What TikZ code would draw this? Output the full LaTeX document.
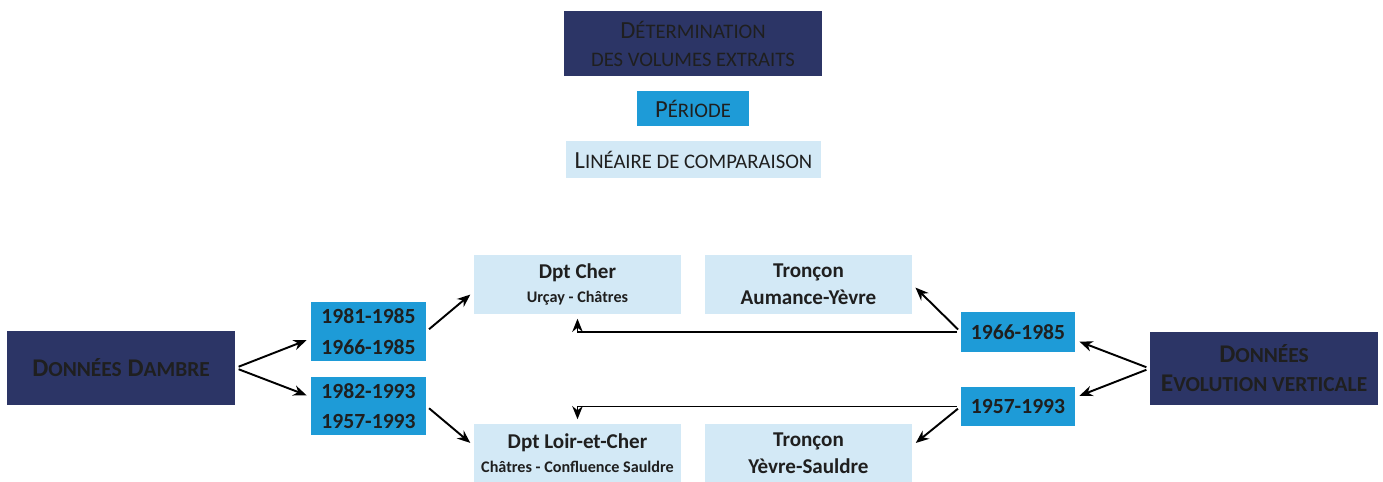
\documentclass[tikz,border=0pt]{standalone}
\usepackage{fontspec}
\setmainfont{Carlito}
\usepackage{graphicx}
\usepackage{tikz}
\usetikzlibrary{positioning,arrows.meta}

\definecolor{navyfill}{HTML}{2C3566}
\definecolor{perfill}{HTML}{1E9BD7}
\definecolor{linfill}{HTML}{D3E9F6}
\newcommand{\smc}[1]{\scalebox{0.84}{#1}}

\begin{document}
\begin{tikzpicture}[
  x=0.02cm, y=-0.02cm,
  navybox/.style={rectangle, fill=navyfill, text=black!88, align=center, inner sep=0pt, font=\fontsize{14.5}{15.5}\selectfont\bfseries},
  perbox/.style={rectangle, fill=perfill, text=black!88, align=center, inner sep=0pt, font=\fontsize{12.3}{17.5}\selectfont\bfseries},
  linbox/.style={rectangle, fill=linfill, text=black!88, align=center, inner sep=0pt, font=\fontsize{12}{15.3}\selectfont\bfseries},
  legtext/.style={font=\fontsize{14}{15.9}\selectfont},
  subtext/.style={font=\fontsize{9.2}{11}\selectfont\bfseries},
  arrowedge/.style={draw=black, line width=1.1pt, shorten <=2pt, shorten >=2.5pt, -{Stealth[length=7.5pt,width=6pt]}}
]
\useasboundingbox (0,0) rectangle (1383,482);

\node[navybox, legtext, minimum width=5.16cm, minimum height=1.3cm] (lgvol) at (693,43.5) {D\smc{ÉTERMINATION}\\\smc{DES VOLUMES EXTRAITS}};
\node[perbox, legtext, minimum width=2.24cm, minimum height=0.7cm] (lgper) at (693,108.5) {P\smc{ÉRIODE}};
\node[linbox, legtext, minimum width=5.1cm, minimum height=0.74cm] (lglin) at (693.5,159.5) {L\smc{INÉAIRE DE COMPARAISON}};

\node[navybox, minimum width=4.56cm, minimum height=1.48cm] (dambre) at (121,368) {D\smc{ONNÉES} D\smc{AMBRE}};
\node[navybox, font=\fontsize{14.5}{16.5}\selectfont\bfseries, minimum width=4.56cm, minimum height=1.46cm] (evol) at (1264,368.5) {D\smc{ONNÉES}\\E\smc{VOLUTION VERTICALE}};

\node[perbox, minimum width=2.3cm, minimum height=1.18cm] (pL1) at (368.5,331.5) {1981-1985\\1966-1985};
\node[perbox, minimum width=2.3cm, minimum height=1.18cm] (pL2) at (368.5,406) {1982-1993\\1957-1993};
\node[perbox, minimum width=2.28cm, minimum height=0.82cm] (pR1) at (1018,332) {1966-1985};
\node[perbox, minimum width=2.28cm, minimum height=0.8cm] (pR2) at (1018,406.5) {1957-1993};

\node[linbox, minimum width=4.14cm, minimum height=1.18cm] (cher) at (577.5,284.5) {Dpt Cher\\[-2pt]{\fontsize{9.2}{11}\selectfont Urçay - Châtres}};
\node[linbox, minimum width=4.14cm, minimum height=1.16cm] (loir) at (577.5,453) {Dpt Loir-et-Cher\\[-2pt]{\fontsize{9.2}{11}\selectfont Châtres - Confluence Sauldre}};
\node[linbox, minimum width=4.14cm, minimum height=1.18cm] (aum) at (808.5,284.5) {Tronçon\\Aumance-Yèvre};
\node[linbox, minimum width=4.14cm, minimum height=1.16cm] (yev) at (808.5,453) {Tronçon\\Yèvre-Sauldre};

\draw[arrowedge] (dambre.east) -- (pL1.187);
\draw[arrowedge] (dambre.east) -- (pL2.171);
\draw[arrowedge] (pL1.east) -- (cher.184);
\draw[arrowedge] (pL2.east) -- (loir.176);
\draw[arrowedge] (evol.west) -- (pR1.-8);
\draw[arrowedge] (evol.west) -- (pR2.9);
\draw[arrowedge] (pR1.west) -- (aum.east);
\draw[arrowedge] (pR2.west) -- (yev.4);
\draw[arrowedge] (pR1.west) -| (cher.south);
\draw[arrowedge] (pR2.west) -| (loir.north);

\end{tikzpicture}
\end{document}
